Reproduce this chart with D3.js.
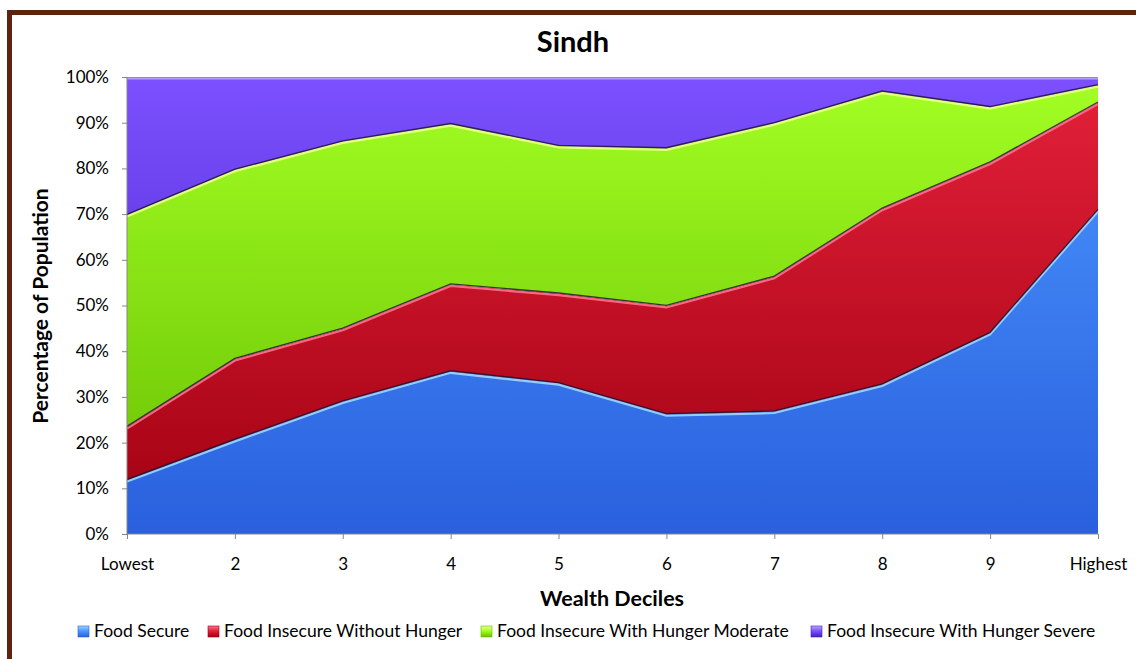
<!DOCTYPE html>
<html>
<head>
<meta charset="utf-8">
<script src="https://cdn.jsdelivr.net/npm/d3@7"></script>
<style>
  body { margin: 0; background: #fff; }
  svg text { font-family: Lato, "Open Sans", sans-serif; fill: #000; }
  .axis path, .axis line { stroke: #868686; }
</style>
</head>
<body>
<div id="graphic"></div>
<script>
var width = 1136, height = 659;

// data (percent of population per decile)
var deciles = ["Lowest", "2", "3", "4", "5", "6", "7", "8", "9", "Highest"];
var foodSecure       = [11.8, 20.6, 29.0, 35.6, 33.0, 26.2, 26.8, 32.7, 44.0, 70.9];
var insecureNoHunger = [11.6, 17.7, 15.9, 19.0, 19.6, 23.7, 29.5, 38.5, 37.3, 23.5];
var hungerModerate   = [46.4, 41.4, 41.0, 35.1, 32.3, 34.5, 33.6, 25.6, 12.1,  3.8];
var hungerSevere     = [30.2, 20.3, 14.1, 10.3, 15.1, 15.6, 10.1,  3.2,  6.6,  1.8];
var yTicks = [0, 10, 20, 30, 40, 50, 60, 70, 80, 90, 100];

var seriesNames = ["Food Secure", "Food Insecure Without Hunger", "Food Insecure With Hunger Moderate", "Food Insecure With Hunger Severe"];
var seriesKeys = ["secure", "noHunger", "moderate", "severe"];
var topColor    = ["#4a96ff", "#e4213b", "#a3ff24", "#7c50ff"];
var bottomColor = ["#2a60de", "#a00010", "#66be00", "#3f1fbe"];
var hiColor     = ["#9fd6ff", "#ff7190", "#ecff8c", "#bca6ff"];

var table = deciles.map(function(d, i){
  return {decile: d, secure: foodSecure[i], noHunger: insecureNoHunger[i], moderate: hungerModerate[i], severe: hungerSevere[i]};
});

var plotLeft = 127, plotRight = 1098, plotTop = 77, plotBottom = 534;

var x = d3.scalePoint().domain(deciles).range([plotLeft, plotRight]);
var y = d3.scaleLinear().domain([0, 100]).range([plotBottom, plotTop]);

var svg = d3.select('#graphic')
  .append('svg')
  .attr("width", width)
  .attr("height", height);

// frame
svg.append("rect")
  .attr("x", 9.5).attr("y", 12.5)
  .attr("width", 1140).attr("height", 670)
  .attr("fill", "#fff")
  .attr("stroke", "#5c2410")
  .attr("stroke-width", 5);

var defs = svg.append("defs");
seriesKeys.forEach(function(k, i){
  var g = defs.append("linearGradient")
    .attr("id", "grad-" + k)
    .attr("gradientUnits", "userSpaceOnUse")
    .attr("x1", 0).attr("x2", 0).attr("y1", plotTop).attr("y2", plotBottom);
  g.append("stop").attr("offset", "0%").attr("stop-color", topColor[i]);
  g.append("stop").attr("offset", "100%").attr("stop-color", bottomColor[i]);

  var s = defs.append("linearGradient")
    .attr("id", "sw-" + k)
    .attr("x1", 0).attr("x2", 0).attr("y1", 0).attr("y2", 1);
  s.append("stop").attr("offset", "0%").attr("stop-color", hiColor[i]);
  s.append("stop").attr("offset", "45%").attr("stop-color", topColor[i]);
  s.append("stop").attr("offset", "100%").attr("stop-color", bottomColor[i]);
});

var stack = d3.stack().keys(seriesKeys);
var layers = stack(table);

var area = d3.area()
  .x(function(d){ return x(d.data.decile); })
  .y0(function(d){ return y(d[0]); })
  .y1(function(d){ return y(d[1]); });

var topLine = d3.line()
  .x(function(d){ return x(d.data.decile); })
  .y(function(d){ return y(d[1]); });

var plot = svg.append("g").attr("class", "areas");

plot.selectAll("path.layer")
  .data(layers)
  .enter().append("path")
  .attr("class", "layer")
  .attr("d", area)
  .attr("fill", function(d, i){ return "url(#grad-" + seriesKeys[i] + ")"; });

// bevel: light highlight under each top edge, dark shadow just above it
layers.forEach(function(layer, i){
  plot.append("path")
    .attr("d", topLine(layer))
    .attr("transform", "translate(0,1.5)")
    .attr("fill", "none")
    .attr("stroke", hiColor[i])
    .attr("stroke-width", 2.2)
    .attr("stroke-opacity", 0.9);
  if (i < layers.length - 1) {
    plot.append("path")
      .attr("d", topLine(layer))
      .attr("transform", "translate(0,-0.6)")
      .attr("fill", "none")
      .attr("stroke", "#1c1030")
      .attr("stroke-width", 1.4)
      .attr("stroke-opacity", 0.8);
  }
});

// axes
var yAxis = svg.append("g")
  .attr("class", "axis")
  .attr("transform", "translate(" + plotLeft + ",0)")
  .call(d3.axisLeft(y).tickValues(yTicks).tickSize(5).tickPadding(13).tickFormat(function(d){ return d + "%"; }));
yAxis.select(".domain").attr("d", "M0," + plotTop + "V" + plotBottom);

var xAxis = svg.append("g")
  .attr("class", "axis")
  .attr("transform", "translate(0," + plotBottom + ")")
  .call(d3.axisBottom(x).tickSize(5).tickPadding(19));
xAxis.select(".domain").attr("d", "M" + plotLeft + ",0H" + plotRight);

svg.selectAll(".axis text").attr("fill", "#000").style("font-size", "17px").style("font-family", "Lato, sans-serif");

// titles
svg.append("text")
  .attr("x", 573).attr("y", 52)
  .attr("text-anchor", "middle")
  .style("font-size", "29px").style("font-weight", "bold")
  .text("Sindh");

svg.append("text")
  .attr("x", 612).attr("y", 606)
  .attr("text-anchor", "middle")
  .style("font-size", "21.5px").style("font-weight", "bold")
  .text("Wealth Deciles");

svg.append("text")
  .attr("transform", "translate(48,306) rotate(-90)")
  .attr("text-anchor", "middle")
  .style("font-size", "21px").style("font-weight", "bold")
  .text("Percentage of Population");

// legend
var legendX = [78, 208, 481, 811];
var legend = svg.append("g").attr("class", "legend");
seriesNames.forEach(function(name, i){
  legend.append("rect")
    .attr("x", legendX[i]).attr("y", 626)
    .attr("width", 11).attr("height", 11)
    .attr("fill", "url(#sw-" + seriesKeys[i] + ")")
    .attr("stroke", bottomColor[i]).attr("stroke-width", 0.6);
  legend.append("text")
    .attr("x", legendX[i] + 16).attr("y", 637)
    .style("font-size", "17.5px")
    .text(name);
});
</script>
</body>
</html>
